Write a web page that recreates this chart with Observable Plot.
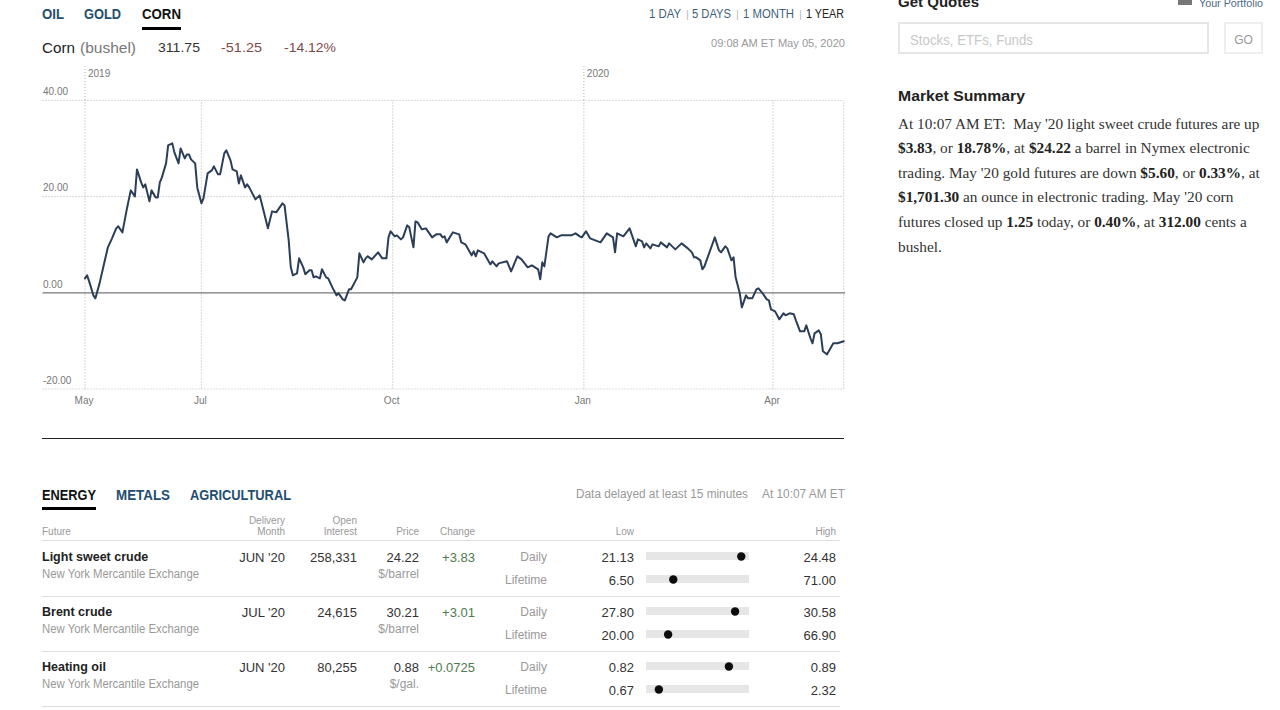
<!DOCTYPE html>
<html>
<head>
<meta charset="utf-8">
<script src="https://cdn.jsdelivr.net/npm/d3@7"></script>
<script src="https://cdn.jsdelivr.net/npm/@observablehq/plot@0.6"></script>
<style>
  html, body { margin: 0; padding: 0; background: #fff; overflow: hidden; }
  body { width: 1280px; height: 710px; position: relative; font-family: "Liberation Sans", sans-serif; }
  .t { position: absolute; white-space: pre; line-height: 1; }
  .t b { font-weight: bold; color: #222; }
  .box { position: absolute; box-sizing: border-box; }
  #chart, .range { position: absolute; }
  #chart svg, .range svg { display: block; overflow: visible; }
</style>
</head>
<body>
<div id="chart"></div>
<script>
// corn, % change over the year: days since 6 May 2019 and the value
const cornDays = [0,1,2,4,5,7,9,11,13,15,16,18,20,22,24,25,27,28,29,31,32,34,35,36,37,39,40,42,43,45,46,48,49,50,51,53,54,56,57,59,61,62,64,65,67,68,70,71,73,74,75,77,78,79,82,84,85,88,90,92,95,96,98,99,100,102,103,105,106,108,109,110,111,113,114,116,117,119,121,122,124,125,127,128,131,132,134,135,136,138,141,143,145,146,147,149,150,152,153,155,156,158,159,160,162,164,167,169,171,172,173,174,177,180,181,183,186,187,188,189,192,195,196,198,199,203,205,208,210,213,215,218,219,220,221,223,224,227,229,234,236,238,239,241,243,248,251,254,255,256,259,262,265,266,268,269,270,272,273,276,277,280,281,284,287,290,292,293,294,296,297,298,303,305,306,308,309,311,312,313,315,316,318,319,321,323,324,326,328,329,330,332,334,336,337,339,341,342,344,346,347,349,350,351,353,354,355,357,360,362,365];
const cornChange = [3.01,3.64,2.39,-0.52,-1.14,1.97,5.72,9.46,11.33,13.41,13.83,12.58,17.15,21.31,20.06,25.67,22.97,21.93,22.56,19.02,21.31,19.85,19.85,22.97,24.01,26.92,30.66,31.08,29.21,26.92,30.04,27.96,28.79,28.79,27.75,26.92,21.93,18.61,19.65,24.84,25.47,26.30,24.64,24.64,29.00,29.63,27.55,25.67,25.26,22.76,24.43,21.93,22.56,21.93,19.44,20.27,18.61,13.41,16.94,16.74,18.61,18.19,10.91,5.30,3.64,4.05,7.17,5.30,3.85,4.68,4.68,3.22,3.43,3.01,4.89,3.22,3.01,1.14,-0.52,-0.10,-1.35,-1.56,0.73,0.73,3.22,8.21,6.34,7.17,7.59,6.96,8.42,7.17,7.17,11.54,12.79,11.75,11.95,11.12,11.54,14.03,13.62,9.46,14.86,14.66,13.20,13.41,11.54,12.16,12.16,11.54,11.75,10.50,12.58,12.16,10.50,10.08,7.80,8.63,7.59,8.84,8.21,5.93,6.55,5.51,6.13,6.55,4.47,7.59,6.96,5.30,5.72,4.89,2.81,6.34,5.51,11.75,12.37,11.54,11.95,11.95,12.37,11.75,11.54,12.79,11.33,10.50,12.37,11.54,8.42,12.37,11.75,13.41,9.67,11.12,10.71,9.46,10.29,9.25,10.08,9.67,10.50,9.46,10.29,9.04,10.29,9.25,8.42,7.38,7.38,6.76,4.89,5.51,11.54,8.84,8.42,9.67,9.25,6.76,7.38,3.22,-0.10,-3.01,-0.52,-1.14,-1.14,0.73,0.94,-0.10,-1.35,-1.56,-3.43,-3.85,-5.51,-4.26,-4.68,-4.26,-4.47,-5.72,-8.00,-8.00,-6.76,-9.46,-10.50,-8.42,-7.80,-8.63,-12.16,-12.79,-10.50,-10.50,-10.08];

const yTicks = [40, 20, 0, -20];
const monthTicks = ["2019-05-06", "2019-07-01", "2019-10-01", "2020-01-01", "2020-04-01"];
const monthLabels = ["May", "Jul", "Oct", "Jan", "Apr"];
const yearTicks = ["2019-05-06", "2020-01-01"];
const yearLabels = ["2019", "2020"];
const lastDay = "2020-05-05";

const futures = ["Light sweet crude", "Brent crude", "Heating oil"];
const delivery = ["JUN '20", "JUL '20", "JUN '20"];
const openInterest = ["258,331", "24,615", "80,255"];
const prices = ["24.22", "30.21", "0.88"];
const units = ["$/barrel", "$/barrel", "$/gal."];
const changes = ["+3.83", "+3.01", "+0.0725"];
const dailyLow = ["21.13", "27.80", "0.82"];
const dailyHigh = ["24.48", "30.58", "0.89"];
const lifeLow = ["6.50", "20.00", "0.67"];
const lifeHigh = ["71.00", "66.90", "2.32"];
// where the dot sits on each low-high track, 0 to 1
const dailyDot = [0.92, 0.86, 0.80];
const lifeDot = [0.26, 0.21, 0.12];

const summaryLines = [
  "At 10:07 AM ET:  May '20 light sweet crude futures are up",
  "<b>$3.83</b>, or <b>18.78%</b>, at <b>$24.22</b> a barrel in Nymex electronic",
  "trading. May '20 gold futures are down <b>$5.60</b>, or <b>0.33%</b>, at",
  "<b>$1,701.30</b> an ounce in electronic trading. May '20 corn",
  "futures closed up <b>1.25</b> today, or <b>0.40%</b>, at <b>312.00</b> cents a",
  "bushel."
];

const parseDay = d3.utcParse("%Y-%m-%d");
const startDay = parseDay("2019-05-06");
const cornData = cornDays.map((d, i) => ({date: d3.utcDay.offset(startDay, d), change: cornChange[i]}));
const monthDates = monthTicks.map(parseDay);
const yearDates = yearTicks.map(parseDay);

const SANS = '"Liberation Sans", sans-serif';
const SERIF = '"Liberation Serif", serif';
const GRID = "#bdbdbd";

// main line chart
const chart = Plot.plot({
  width: 860,
  height: 360,
  marginTop: 40,
  marginBottom: 31.5,
  marginLeft: 84.5,
  marginRight: 16.8,
  style: {background: "transparent", fontFamily: SANS, fontSize: "10px", color: "#777"},
  x: {type: "utc", domain: [startDay, parseDay(lastDay)]},
  y: {domain: [-20, 40]},
  marks: [
    Plot.ruleY(yTicks.filter(d => d != 0), {stroke: GRID, strokeWidth: 1.2, strokeDasharray: "1 2", insetLeft: -42}),
    Plot.ruleX(monthDates.concat([parseDay(lastDay)]), {y1: -20, y2: 40, stroke: GRID, strokeWidth: 1.2, strokeDasharray: "1 2"}),
    Plot.ruleX(yearDates, {y1: 40, y2: 47, stroke: GRID, strokeWidth: 1.2, strokeDasharray: "1 2"}),
    Plot.ruleY([0], {stroke: "#777", strokeWidth: 1.4, insetLeft: -42, insetRight: -2}),
    Plot.axisY({ticks: yTicks, tickSize: 0, tickFormat: d => d3.format(".2f")(d).replace("\u2212", "-"), textAnchor: "start", dx: -42, dy: -8.5, tickPadding: 0, label: null, fill: "#777"}),
    Plot.axisX({ticks: monthDates, tickSize: 0, tickPadding: 8, dx: -1, label: null, fill: "#777",
      tickFormat: d => monthLabels[monthDates.findIndex(m => +m == +d)]}),
    Plot.text(yearLabels, {x: yearDates, frameAnchor: "top", dy: -31, dx: 3, textAnchor: "start", fill: "#777"}),
    Plot.line(cornData, {x: "date", y: "change", stroke: "#2b3e58", strokeWidth: 2})
  ]
});
const holder = document.getElementById("chart");
holder.style.left = "0px";
holder.style.top = "60px";
holder.append(chart);

// page text around the charts; w squeezes the text to the width seen in the reference
function put(text, x, y, o = {}) {
  const el = document.createElement("div");
  el.className = "t";
  el.innerHTML = text;
  el.style.top = y + "px";
  el.style.left = x + "px";
  el.style.fontFamily = o.family || SANS;
  el.style.fontSize = (o.size || 12) + "px";
  el.style.color = o.color || "#333";
  if (o.weight) el.style.fontWeight = o.weight;
  document.body.append(el);
  let tf = "translateY(-50%)";
  if (o.w) {
    const natural = el.getBoundingClientRect().width;
    el.style.transformOrigin = "left center";
    tf += ` scaleX(${o.w / natural})`;
    if (o.right) el.style.left = (x - o.w) + "px";
  } else if (o.right) {
    tf = "translate(-100%,-50%)";
  } else if (o.middle) {
    tf = "translate(-50%,-50%)";
  }
  el.style.transform = tf;
  return el;
}
function box(x, y, w, h, css) {
  const el = document.createElement("div");
  el.className = "box";
  Object.assign(el.style, {left: x + "px", top: y + "px", width: w + "px", height: h + "px"}, css);
  document.body.append(el);
}

const BLUE = "#1f4e70";
const TAB = {size: 15.5, weight: "bold"};
put("OIL", 42, 14, {...TAB, color: BLUE, w: 22});
put("GOLD", 84, 14, {...TAB, color: BLUE, w: 37});
put("CORN", 142, 14, {...TAB, color: "#111", w: 39});
box(142, 27, 39, 3, {background: "#000"});

put("Corn", 42, 47, {size: 15, color: "#222", w: 33});
put("(bushel)", 80, 47, {size: 15, color: "#777", w: 56});
put("311.75", 158, 48, {size: 13.5, color: "#333", w: 42});
put("-51.25", 221, 48, {size: 13.5, color: "#7d4a4a", w: 41});
put("-14.12%", 284, 48, {size: 13.5, color: "#7d4a4a", w: 52});

const RANGE = {size: 12, color: "#3f5f7a"};
put("1 DAY", 649, 14, {...RANGE, w: 32});
put("|", 686, 14, {size: 11, color: "#bbb"});
put("5 DAYS", 692, 14, {...RANGE, w: 39});
put("|", 736, 14, {size: 11, color: "#bbb"});
put("1 MONTH", 743, 14, {...RANGE, w: 51});
put("|", 799, 14, {size: 11, color: "#bbb"});
put("1 YEAR", 806, 14, {...RANGE, color: "#222", w: 38});
put("09:08 AM ET May 05, 2020", 845, 43, {size: 11, color: "#999", right: true, w: 134});

box(42, 438, 802, 1, {background: "#222"});

// market table
put("ENERGY", 42, 494.5, {...TAB, color: "#111", w: 54});
put("METALS", 116, 494.5, {...TAB, color: BLUE, w: 54});
put("AGRICULTURAL", 190, 494.5, {...TAB, color: BLUE, w: 101});
box(42, 507, 54, 3, {background: "#000"});
put("Data delayed at least 15 minutes", 748, 493.5, {size: 12, color: "#999", right: true, w: 172});
put("At 10:07 AM ET", 845, 493.5, {size: 12, color: "#999", right: true, w: 83});

const HEAD = {size: 10, color: "#999"};
put("Future", 42, 531.5, HEAD);
put("Delivery", 285, 520.5, {...HEAD, right: true});
put("Month", 285, 531.5, {...HEAD, right: true});
put("Open", 357, 520.5, {...HEAD, right: true});
put("Interest", 357, 531.5, {...HEAD, right: true});
put("Price", 419, 531.5, {...HEAD, right: true});
put("Change", 475, 531.5, {...HEAD, right: true});
put("Low", 634, 531.5, {...HEAD, right: true});
put("High", 836, 531.5, {...HEAD, right: true});
box(42, 540, 798, 1, {background: "#ddd"});

futures.forEach((name, i) => {
  const y1 = 556.8 + i * 55, y2 = y1 + 23, ySub = y1 + 17;
  put(name, 42, y1, {size: 12.5, weight: "bold", color: "#222"});
  put("New York Mercantile Exchange", 42, ySub, {size: 12, color: "#999", w: 157});
  put(delivery[i], 285, y1, {size: 13, right: true});
  put(openInterest[i], 357, y1, {size: 13, right: true});
  put(prices[i], 419, y1, {size: 13, right: true});
  put(units[i], 419, ySub, {size: 12, color: "#999", right: true});
  put(changes[i], 475, y1, {size: 13, color: "#4e7a4e", right: true});
  put("Daily", 547, y1, {size: 12, color: "#999", right: true});
  put("Lifetime", 547, y2, {size: 12, color: "#999", right: true});
  put(dailyLow[i], 634, y1, {size: 13, right: true});
  put(lifeLow[i], 634, y2, {size: 13, right: true});
  put(dailyHigh[i], 836, y1, {size: 13, right: true});
  put(lifeHigh[i], 836, y2, {size: 13, right: true});
  box(42, 595.5 + i * 55, 798, 1.5, {background: "#ddd"});

  // low-high tracks and the dots on them
  const rows = [{span: "Daily", pos: dailyDot[i]}, {span: "Lifetime", pos: lifeDot[i]}];
  const range = Plot.plot({
    width: 103, height: 46, margin: 0, axis: null,
    style: {background: "transparent"},
    x: {domain: [0, 1]},
    y: {domain: ["Daily", "Lifetime"], paddingInner: 0.65, paddingOuter: 0.325},
    marks: [
      Plot.barX(rows, {x1: 0, x2: 1, y: "span", fill: "#e6e6e6"}),
      Plot.dot(rows, {x: "pos", y: "span", r: 4.2, fill: "#0c0c0c"})
    ]
  });
  const cell = document.createElement("div");
  cell.className = "range";
  cell.style.left = "646px";
  cell.style.top = (544.5 + i * 55) + "px";
  cell.append(range);
  document.body.append(cell);
});

// side column
put("Get Quotes", 898, 1.5, {size: 14, weight: "bold", color: "#222", w: 81});
box(1178, 0, 14, 5, {background: "#777"});
put("Your Portfolio", 1199, 2.5, {size: 10.5, color: "#4a6a88", w: 64});
box(898, 22, 311, 32, {border: "2px solid #e6e6e6"});
put("Stocks, ETFs, Funds", 910, 39.5, {size: 14, color: "#c8c8c8", w: 123});
box(1224, 22, 39, 32, {border: "2px solid #eee"});
put("GO", 1243.5, 39.5, {size: 12, color: "#999", middle: true});
put("Market Summary", 898, 95, {size: 15, weight: "bold", color: "#222", w: 127});
summaryLines.forEach((line, i) => {
  put(line, 898, 123.5 + i * 24.6, {size: 15.3, family: SERIF, color: "#333"});
});
</script>
</body>
</html>
